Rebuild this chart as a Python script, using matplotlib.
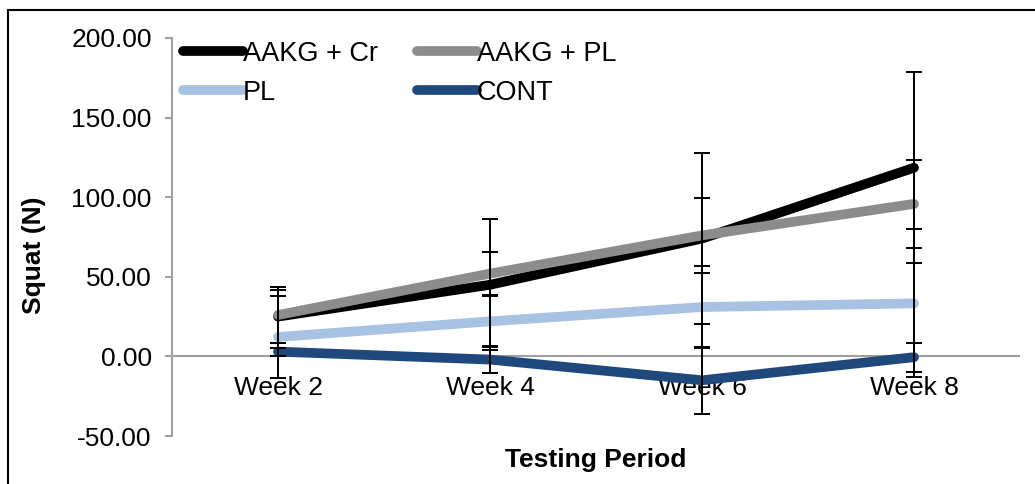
import matplotlib
matplotlib.use("Agg")
import matplotlib.pyplot as plt
from matplotlib.patches import Rectangle
from matplotlib.ticker import FormatStrFormatter

plt.rcParams['font.family'] = ['Liberation Sans', 'DejaVu Sans']

weeks = ['Week 2', 'Week 4', 'Week 6', 'Week 8']
series_names = ['AAKG + Cr', 'AAKG + PL', 'PL', 'CONT']
aakg_cr = [25.0, 45.0, 74.0, 118.5]
aakg_pl = [26.0, 52.0, 76.0, 95.8]
pl = [12.2, 22.0, 31.0, 33.3]
cont = [3.0, -2.0, -15.0, -0.5]
sd_aakg_cr = [16.5, 41.0, 53.5, 60.0]
sd_aakg_pl = [17.5, 13.6, 23.5, 27.8]
sd_pl = [26.0, 16.0, 26.0, 46.5]
sd_cont = [2.5, 8.5, 21.0, 9.0]
colors = ['#000000', '#8c8c8c', '#a7c2e2', '#1f497d']

fig = plt.figure(figsize=(10.35, 4.84), dpi=100)
ax = fig.add_axes([172 / 1035, 1 - 436 / 484, (1020 - 172) / 1035, (436 - 38) / 484])

x = range(len(weeks))
handles = {}
data = [aakg_cr, aakg_pl, pl, cont]
errs = [sd_aakg_cr, sd_aakg_pl, sd_pl, sd_cont]
for i, (name, vals, err, c) in enumerate(zip(series_names, data, errs, colors)):
    ln, = ax.plot(x, vals, color=c, lw=7, solid_capstyle='round',
                  solid_joinstyle='round', label=name, zorder=3 + i)
    ax.errorbar(x, vals, yerr=err, fmt='none', ecolor='black', elinewidth=1.4,
                capsize=5.8, capthick=1.4, zorder=3 + i)
    handles[name] = ln

ax.set_xlim(-0.5, 3.5)
ax.set_ylim(-50, 200)
ax.set_yticks([-50, 0, 50, 100, 150, 200])
ax.yaxis.set_major_formatter(FormatStrFormatter('%.2f'))
ax.tick_params(axis='y', labelsize=19, color='#a0a0a0', length=5, width=1.5, pad=9.5)
ax.tick_params(axis='x', bottom=False, labelbottom=False)
for s in ['top', 'right', 'bottom']:
    ax.spines[s].set_visible(False)
ax.spines['left'].set_color('#a0a0a0')
ax.spines['left'].set_linewidth(1.5)
ax.axhline(0, color='#a0a0a0', lw=1.5, zorder=2)

for i, w in enumerate(weeks):
    ax.annotate(w, xy=(i, 0), xytext=(0, -14), textcoords='offset points',
                ha='center', va='top', fontsize=19)

fig.text(596 / 1035, 1 - 460 / 484, 'Testing Period', ha='center', va='center',
         fontsize=19, fontweight='bold')
fig.text(34 / 1035, 1 - 255 / 484, 'Squat (N)', ha='center', va='center',
         rotation=90, fontsize=19, fontweight='bold')

order = ['AAKG + Cr', 'PL', 'AAKG + PL', 'CONT']
ax.legend([handles[n] for n in order], order, loc='upper left',
          bbox_to_anchor=(0.007, 1.007), ncol=2, frameon=False, fontsize=19.5,
          handlelength=2.2, handletextpad=0.0, columnspacing=1.45,
          labelspacing=0.48, borderaxespad=0.0, borderpad=0.2)

fig.add_artist(Rectangle((8 / 1035, -0.1), 1.2, 1.1 - 10 / 484, transform=fig.transFigure,
                         fill=False, edgecolor='black', lw=1.5))

fig.savefig('out.png', dpi=100)
